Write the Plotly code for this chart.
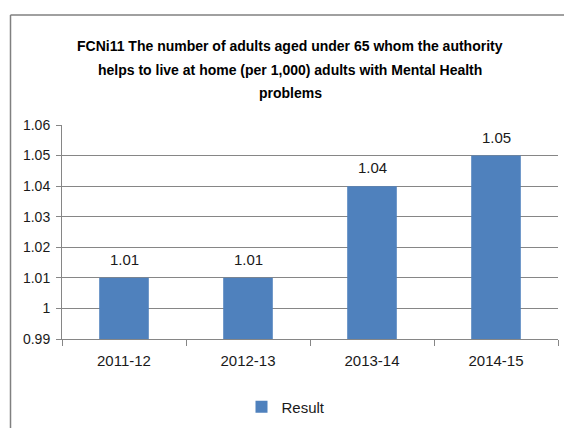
import plotly.graph_objects as go

categories = ["2011-12", "2012-13", "2013-14", "2014-15"]
values = [1.01, 1.01, 1.04, 1.05]
value_labels = ["1.01", "1.01", "1.04", "1.05"]
y_ticks = [0.99, 1.0, 1.01, 1.02, 1.03, 1.04, 1.05, 1.06]
y_tick_labels = ["0.99", "1", "1.01", "1.02", "1.03", "1.04", "1.05", "1.06"]
series_name = "Result"
title_lines = ["FCNi11 The number of adults aged under 65 whom the authority",
               "helps to live at home (per 1,000) adults with Mental Health",
               "problems"]

FONT = "Liberation Sans, Arial, sans-serif"
TXT = "#1a1a1a"
GRID = "#868686"

# plot area in pixels
L, R, T, B = 62, 558, 125, 340
W, H = R - L, B - T

def px_x(p):
    return (p - L) / W

def px_y(p):
    return (B - p) / H

fig = go.Figure()
fig.add_trace(go.Bar(
    x=categories, y=values, name=series_name,
    marker=dict(color="#4F81BD", line=dict(width=0)),
    hoverinfo="skip",
))

for c, v, t in zip(categories, values, value_labels):
    fig.add_annotation(x=c, y=v, text=t, showarrow=False, yanchor="bottom",
                       yshift=8, font=dict(family=FONT, size=15, color=TXT))

for i, line in enumerate(title_lines):
    fig.add_annotation(xref="paper", yref="paper", x=px_x(290), y=px_y(46 + 23.5 * i),
                       text=line, showarrow=False, xanchor="center", yanchor="middle",
                       font=dict(family=FONT, size=14, color="#000000", weight="bold"))

fig.update_layout(
    width=564, height=428,
    margin=dict(l=L, r=564 - R, t=T, b=428 - B),
    paper_bgcolor="white", plot_bgcolor="white",
    font=dict(family=FONT, size=15, color=TXT),
    bargap=0.6,
    showlegend=True,
    legend=dict(orientation="h", x=px_x(286), xanchor="center", y=px_y(407), yanchor="middle",
                itemwidth=30, font=dict(family=FONT, size=15, color=TXT)),
    xaxis=dict(type="category", showline=True, linecolor=GRID, linewidth=1, ticks="outside",
               ticklen=6, tickcolor=GRID, tickson="boundaries", ticklabelstandoff=8,
               tickfont=dict(family=FONT, size=15, color=TXT), showgrid=False),
    yaxis=dict(range=[0.99, 1.06], tickvals=y_ticks, ticktext=y_tick_labels,
               showline=True, linecolor=GRID, linewidth=1, ticks="outside",
               ticklen=5, tickcolor=GRID, showgrid=True, gridcolor=GRID,
               gridwidth=1, zeroline=False, ticklabelstandoff=3,
               tickfont=dict(family=FONT, size=14, color=TXT)),
    shapes=[
        dict(type="line", xref="paper", yref="paper",
             x0=px_x(10.5), x1=1.1, y0=px_y(14.5), y1=px_y(14.5),
             line=dict(color="#808080", width=1.5)),
        dict(type="line", xref="paper", yref="paper",
             x0=px_x(10.5), x1=px_x(10.5), y0=px_y(14.5), y1=-0.5,
             line=dict(color="#808080", width=1.5)),
    ],
)

fig.write_html("out.html", config={"displayModeBar": False},
               post_script="document.body.style.margin='0';document.body.style.overflow='hidden';")
